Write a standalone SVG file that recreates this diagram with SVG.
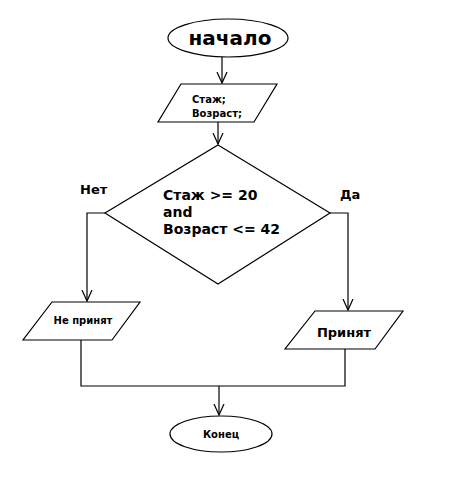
<svg xmlns="http://www.w3.org/2000/svg" width="449" height="480" viewBox="0 0 449 480">
<defs>
<style>
.s{fill:#fff;stroke:#000;stroke-width:1.2}
.c{fill:none;stroke:#000;stroke-width:1.2}
text{font-family:"DejaVu Sans","Liberation Sans",sans-serif;font-weight:bold;fill:#000}
</style>
<marker id="a" viewBox="0 0 12 12" refX="11" refY="6" markerWidth="12" markerHeight="12" markerUnits="userSpaceOnUse" orient="auto">
<polyline points="0,1 11,6 0,11" fill="none" stroke="#000" stroke-width="1.2"/>
</marker>
</defs>
<rect width="449" height="480" fill="#fff"/>
<g id="connectors">
<line class="c" x1="222" y1="57" x2="222" y2="83" marker-end="url(#a)"/>
<line class="c" x1="218" y1="122" x2="218" y2="144" marker-end="url(#a)"/>
<polyline class="c" points="105,213 87,213 87,301" marker-end="url(#a)"/>
<polyline class="c" points="330,213 348,213 348,310" marker-end="url(#a)"/>
<polyline class="c" points="81,340 81,386 345,386 345,349"/>
<line class="c" x1="219" y1="386" x2="219" y2="415" marker-end="url(#a)"/>
<text x="80" y="194" font-size="13">Нет</text>
<text x="340" y="199" font-size="13">Да</text>
</g>
<g id="start">
<ellipse class="s" cx="228" cy="38" rx="60" ry="19"/>
<text x="230" y="45" font-size="20" text-anchor="middle">начало</text>
</g>
<g id="input">
<polygon class="s" points="181,84 277,84 254,122 158,122"/>
<text x="192" y="103" font-size="10">Стаж;</text>
<text x="192" y="117" font-size="10">Возраст;</text>
</g>
<g id="decision">
<polygon class="s" points="218,145 330,213 218,284 105,213"/>
<text x="163" y="200" font-size="14">Стаж &gt;= 20</text>
<text x="163" y="217" font-size="14">and</text>
<text x="163" y="234" font-size="14">Возраст &lt;= 42</text>
</g>
<g id="rejected">
<polygon class="s" points="52,302 140,302 112,340 23,340"/>
<text x="83" y="324" font-size="10" text-anchor="middle">Не принят</text>
</g>
<g id="accepted">
<polygon class="s" points="315,311 403,311 375,349 285,349"/>
<text x="344" y="337" font-size="13" text-anchor="middle">Принят</text>
</g>
<g id="end">
<ellipse class="s" cx="221" cy="434" rx="51" ry="18"/>
<text x="221" y="438" font-size="10" text-anchor="middle">Конец</text>
</g>
</svg>
